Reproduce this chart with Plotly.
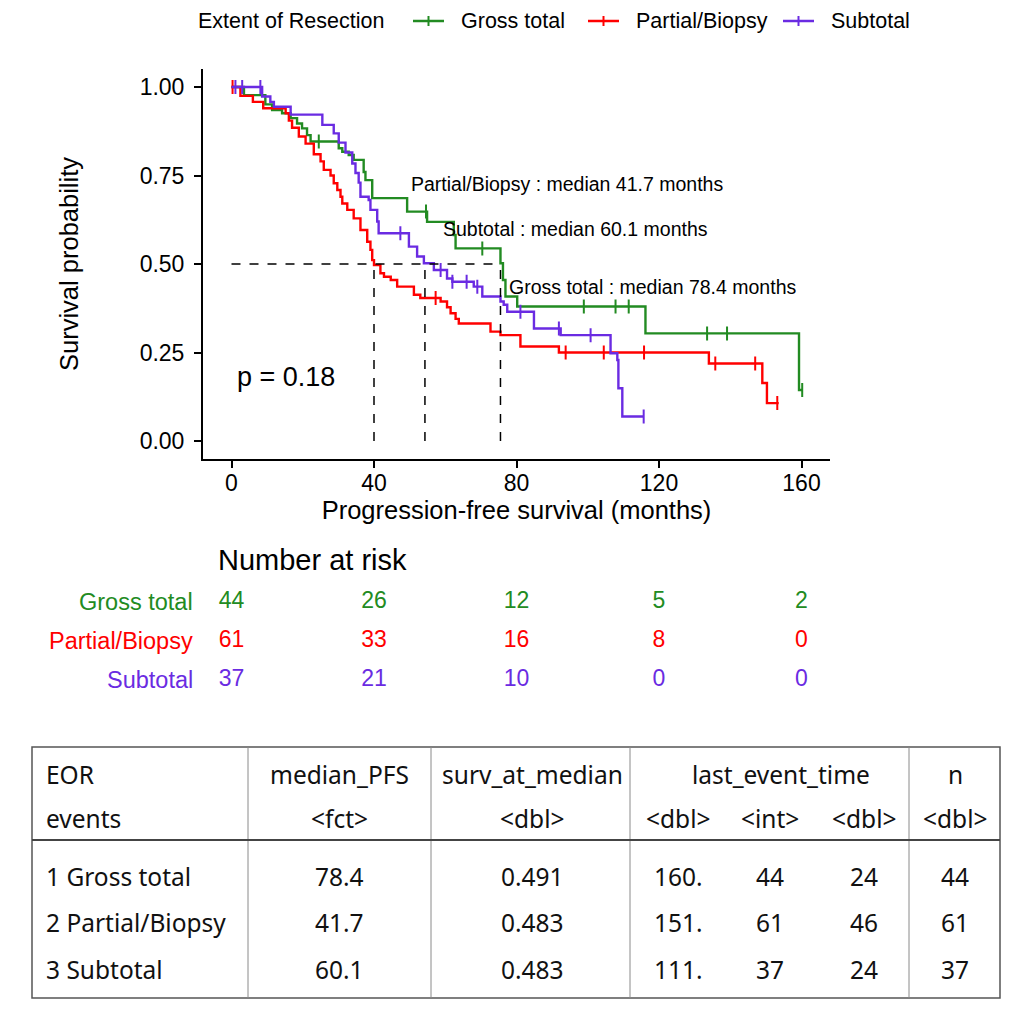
import numpy as np
import plotly.graph_objects as go

W, H = 1000, 1020          # page adds an 8px body margin around the figure
OFF = 8
def px(x):
    return (x - OFF) / W
def py(y):
    return 1 - (y - OFF) / H

FONT = "Liberation Sans, Arial, sans-serif"
TFONT = "Noto Sans, Open Sans, sans-serif"

# ---------------- data ----------------
groups = ["Gross total", "Partial/Biopsy", "Subtotal"]
colors = ["#228B22", "#FF0000", "#6A2BE2"]

gt_time = [0, 3.5, 9.5, 11.4, 14.2, 16.6, 18.4, 19.8, 21.2, 22.2, 30.1, 31.1, 32.9, 34.3,
           37.1, 37.6, 39.5, 49.3, 54.9, 62.4, 62.9, 75.5, 76.2, 76.9, 80.2, 116.2, 159.3]
gt_surv = [1.0, 0.977, 0.951, 0.935, 0.926, 0.912, 0.897, 0.883, 0.864, 0.846, 0.827, 0.817,
           0.808, 0.794, 0.760, 0.737, 0.686, 0.648, 0.619, 0.582, 0.544, 0.502, 0.455, 0.408,
           0.380, 0.304, 0.144]
gt_censor = [24.5, 54.6, 70.4, 98.9, 107.8, 111.5, 133.5, 139.1, 160.2]
gt_end = 160.2

pb_time = [0, 2.5, 6.0, 8.9, 15.2, 16.1, 17.0, 18.9, 20.8, 23.1, 25.0, 25.9, 27.8, 28.7, 29.7,
           30.6, 31.1, 32.5, 34.3, 36.2, 38.1, 39.0, 39.5, 40.0, 41.8, 42.8, 44.7, 46.5, 51.2,
           53.0, 58.7, 60.5, 61.5, 62.9, 63.8, 72.7, 75.5, 81.1, 91.9, 134.0, 149.0, 150.3]
pb_surv = [1.0, 0.975, 0.958, 0.94, 0.926, 0.905, 0.885, 0.86, 0.84, 0.81, 0.79, 0.766, 0.75,
           0.728, 0.709, 0.69, 0.671, 0.653, 0.629, 0.596, 0.563, 0.54, 0.511, 0.497, 0.474,
           0.464, 0.455, 0.436, 0.413, 0.404, 0.394, 0.378, 0.361, 0.345, 0.332, 0.309, 0.299,
           0.267, 0.25, 0.219, 0.164, 0.107]
pb_censor = [0.3, 57.3, 93.8, 104.5, 115.8, 135.8, 147.0, 153.2]
pb_end = 153.6

st_time = [0, 8.6, 10.9, 11.9, 16.6, 25.5, 28.7, 30.1, 32.0, 33.9, 34.8, 35.7, 36.2, 38.5,
           39.0, 40.9, 41.3, 49.8, 52.1, 54.0, 56.8, 60.5, 62.0, 68.0, 70.4, 75.5, 76.4, 77.4,
           84.9, 92.4, 106.4, 108.3, 108.6, 109.7]
st_surv = [1.0, 0.973, 0.958, 0.944, 0.922, 0.893, 0.869, 0.843, 0.815, 0.784, 0.757, 0.73,
           0.69, 0.681, 0.653, 0.62, 0.587, 0.549, 0.521, 0.502, 0.483, 0.459, 0.45, 0.436,
           0.408, 0.394, 0.385, 0.365, 0.318, 0.299, 0.248, 0.229, 0.149, 0.069]
st_censor = [1.1, 3.0, 8.1, 47.4, 58.7, 62.0, 66.0, 69.0, 81.1, 91.9, 100.8, 115.7]
st_end = 115.7

median_lines = [75.5, 40.0, 54.3]   # where the dashed median lines drop (months)
p_value = "0.18"

x_ticks = [0, 40, 80, 120, 160]
y_ticks = [0.0, 0.25, 0.50, 0.75, 1.00]
y_ticklabels = ["0.00", "0.25", "0.50", "0.75", "1.00"]

risk_times = [0, 40, 80, 120, 160]
risk_gt = [44, 26, 12, 5, 2]
risk_pb = [61, 33, 16, 8, 0]
risk_st = [37, 21, 10, 0, 0]

# summary table
tbl_eor = ["1 Gross total", "2 Partial/Biopsy", "3 Subtotal"]
tbl_median_pfs = ["78.4", "41.7", "60.1"]
tbl_surv_at_median = ["0.491", "0.483", "0.483"]
tbl_last_event = ["160.", "151.", "111."]
tbl_n_int = [44, 61, 37]
tbl_events = [24, 46, 24]
tbl_n = [44, 61, 37]
tbl_head1 = ["EOR", "median_PFS", "surv_at_median", "last_event_time", "n"]
tbl_head2 = ["events", "<fct>", "<dbl>", "<dbl>", "<int>", "<dbl>", "<dbl>"]

# ---------------- figure ----------------
fig = go.Figure()

series = [
    (gt_time, gt_surv, gt_censor, gt_end),
    (pb_time, pb_surv, pb_censor, pb_end),
    (st_time, st_surv, st_censor, st_end),
]

for (t, s, cens, end), c, g in zip(series, colors, groups):
    t = np.array(t, dtype=float)
    s = np.array(s, dtype=float)
    fig.add_trace(go.Scatter(
        x=np.append(t, end), y=np.append(s, s[-1]), mode="lines", name=g,
        line=dict(color=c, width=2.4, shape="hv"), showlegend=False, hoverinfo="skip",
    ))
    cens = np.array(cens, dtype=float)
    idx = np.searchsorted(t, cens, side="right") - 1
    fig.add_trace(go.Scatter(
        x=cens, y=s[idx], mode="markers", showlegend=False, hoverinfo="skip",
        marker=dict(symbol="line-ns", size=10, color=c, line=dict(color=c, width=2)),
    ))

shapes = []
annotations = []

# legend (drawn by hand to follow the reference spacing)
LEG_Y = 21
annotations.append(dict(x=px(196), y=py(LEG_Y), xref="paper", yref="paper", xanchor="left",
                        yanchor="middle", showarrow=False, text="Extent of Resection",
                        font=dict(family=FONT, size=21.5, color="black")))
leg_icon_x = [413, 588, 783]
for g, c, lx in zip(groups, colors, leg_icon_x):
    shapes.append(dict(type="line", xref="paper", yref="paper", x0=px(lx), x1=px(lx + 31),
                       y0=py(LEG_Y), y1=py(LEG_Y), line=dict(color=c, width=2.5)))
    shapes.append(dict(type="line", xref="paper", yref="paper", x0=px(lx + 15.5), x1=px(lx + 15.5),
                       y0=py(LEG_Y - 5), y1=py(LEG_Y + 5), line=dict(color=c, width=2)))
    annotations.append(dict(x=px(lx + 46), y=py(LEG_Y), xref="paper", yref="paper", xanchor="left",
                            yanchor="middle", showarrow=False, text=g,
                            font=dict(family=FONT, size=21.5, color="black")))

# median dashed lines
shapes.append(dict(type="line", xref="x", yref="y", x0=0, x1=max(median_lines), y0=0.5, y1=0.5,
                   line=dict(color="black", width=1.5, dash="dash")))
for m in median_lines:
    shapes.append(dict(type="line", xref="x", yref="y", x0=m, x1=m, y0=0, y1=0.5,
                       line=dict(color="black", width=1.5, dash="dash")))

# median labels
label_order = [1, 2, 0]
label_pos = [(49.7, 0.726), (58.7, 0.599), (77.2, 0.435)]
for gi, (lx, ly) in zip(label_order, label_pos):
    annotations.append(dict(
        x=lx, y=ly, xref="x", yref="y", xanchor="left", yanchor="middle", showarrow=False,
        text=f"{groups[gi]} : median {tbl_median_pfs[gi]} months",
        font=dict(family=FONT, size=19.5, color="black")))

annotations.append(dict(x=1.0, y=0.18, xref="x", yref="y", xanchor="left", yanchor="middle",
                        showarrow=False, text=f"p = {p_value}",
                        font=dict(family=FONT, size=27, color="black")))

# risk table
annotations.append(dict(x=px(216), y=py(560), xref="paper", yref="paper", xanchor="left",
                        yanchor="middle", showarrow=False, text="Number at risk",
                        font=dict(family=FONT, size=29, color="black")))
risk_rows = [risk_gt, risk_pb, risk_st]
row_y = [2, 1, 0]
for g, c, r, yy in zip(groups, colors, risk_rows, row_y):
    fig.add_trace(go.Scatter(
        x=risk_times, y=[yy] * len(risk_times), text=[str(v) for v in r], mode="text",
        textposition="middle center", textfont=dict(family=FONT, size=23, color=c),
        xaxis="x2", yaxis="y2", showlegend=False, hoverinfo="skip"))
    annotations.append(dict(x=px(195), y=yy, xref="paper", yref="y2", xanchor="right",
                            yanchor="middle", showarrow=False, text=g,
                            font=dict(family=FONT, size=23.5, color=c)))

# summary table drawing
TL, TR, TT, TB = 32, 1000, 747, 998
shapes.append(dict(type="rect", xref="paper", yref="paper", x0=px(TL), x1=px(TR), y0=py(TB), y1=py(TT),
                   line=dict(color="#555555", width=1.5)))
for vx in [248, 431, 630, 909]:
    shapes.append(dict(type="line", xref="paper", yref="paper", x0=px(vx), x1=px(vx), y0=py(TB), y1=py(TT),
                       line=dict(color="#8a8a8a", width=1)))
shapes.append(dict(type="line", xref="paper", yref="paper", x0=px(TL), x1=px(TR), y0=py(840), y1=py(840),
                   line=dict(color="#444444", width=2)))

def esc(s):
    return s.replace("<", "&lt;").replace(">", "&gt;")

def tcell(x, y, text, anchor="center"):
    annotations.append(dict(x=px(x), y=py(y), xref="paper", yref="paper", xanchor=anchor,
                            yanchor="middle", showarrow=False, text=esc(str(text)),
                            font=dict(family=TFONT, size=24.5, color="#111111")))

h1_x = [44, 339, 532, 781, 955]
for i, (hx, ht) in enumerate(zip(h1_x, tbl_head1)):
    tcell(hx, 774, ht, "left" if i == 0 else "center")
h2_x = [44, 339, 532, 678, 770, 864, 955]
for i, (hx, ht) in enumerate(zip(h2_x, tbl_head2)):
    tcell(hx, 818, ht, "left" if i == 0 else "center")
row_ys = [876, 922, 969]
for i, ry in enumerate(row_ys):
    tcell(44, ry, tbl_eor[i], "left")
    tcell(339, ry, tbl_median_pfs[i])
    tcell(532, ry, tbl_surv_at_median[i])
    tcell(678, ry, tbl_last_event[i])
    tcell(770, ry, tbl_n_int[i])
    tcell(864, ry, tbl_events[i])
    tcell(955, ry, tbl_n[i])

axis_common = dict(showgrid=False, zeroline=False, showline=True, linecolor="black", linewidth=2,
                   ticks="outside", ticklen=7, tickwidth=2, tickcolor="black",
                   tickfont=dict(family=FONT, size=23, color="black"))

fig.update_layout(
    width=W, height=H, autosize=False,
    margin=dict(l=0, r=0, t=0, b=0),
    paper_bgcolor="white", plot_bgcolor="white",
    showlegend=False,
    xaxis=dict(domain=[px(203), px(830)], range=[-8, 168], tickvals=x_ticks, anchor="y",
               ticklabelstandoff=-4,
               title=dict(text="Progression-free survival (months)", standoff=6,
                          font=dict(family=FONT, size=25.5, color="black")),
               **axis_common),
    yaxis=dict(domain=[py(458.7), py(69.3)], range=[-0.05, 1.05], tickvals=y_ticks,
               ticktext=y_ticklabels, anchor="x", ticklabelstandoff=5,
               title=dict(text="Survival probability", standoff=54,
                          font=dict(family=FONT, size=25.5, color="black")),
               **axis_common),
    xaxis2=dict(domain=[px(203), px(830)], range=[-8, 168], visible=False, anchor="y2"),
    yaxis2=dict(domain=[py(699.5), py(582.5)], range=[-0.5, 2.5], visible=False, anchor="x2"),
    shapes=shapes,
    annotations=annotations,
)

fig.write_html("out.html")
